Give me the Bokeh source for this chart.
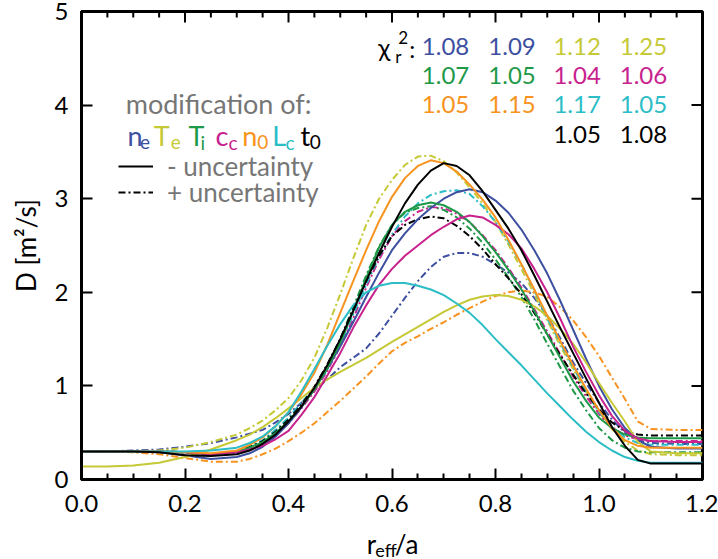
from bokeh.plotting import figure
from bokeh.layouts import column
from bokeh.models import (Range1d, Label, Legend, LegendItem,
                          FixedTicker, PrintfTickFormatter)
from bokeh.core.properties import value
from bokeh.embed import file_html
from bokeh.resources import INLINE

FONT = "Lato"
GRAY = "#767676"

# ---------------- data ----------------
r_eff = [0.00, 0.05, 0.10, 0.15, 0.20, 0.25,
         0.300, 0.325, 0.350, 0.375, 0.400, 0.425, 0.450, 0.475, 0.500, 0.525, 0.550,
         0.575, 0.600, 0.625, 0.650, 0.675, 0.700, 0.725, 0.750, 0.775, 0.800, 0.825,
         0.850, 0.875, 0.900, 0.925, 0.950, 0.975, 1.000, 1.025, 1.050, 1.075, 1.100,
         1.15, 1.20]

ne_minus = [0.30, 0.30, 0.30, 0.29, 0.26, 0.22,
            0.24, 0.28, 0.35, 0.46, 0.60, 0.77, 0.97, 1.19, 1.42, 1.68, 1.95, 2.21, 2.45,
            2.63, 2.78, 2.90, 3.00, 3.07, 3.10, 3.07, 2.98, 2.85, 2.67, 2.45, 2.20, 1.91,
            1.60, 1.29, 1.00, 0.75, 0.55, 0.42, 0.35,
            0.33, 0.33]
ne_plus = [0.30, 0.30, 0.31, 0.32, 0.35, 0.39,
           0.45, 0.49, 0.53, 0.61, 0.70, 0.82, 0.95, 1.07, 1.20, 1.30, 1.40, 1.56, 1.75,
           1.94, 2.12, 2.27, 2.38, 2.42, 2.42, 2.38, 2.30, 2.21, 2.10, 1.94, 1.75, 1.51,
           1.25, 1.03, 0.82, 0.64, 0.50, 0.42, 0.39,
           0.38, 0.38]
Te_minus = [0.14, 0.14, 0.15, 0.18, 0.24, 0.32,
            0.42, 0.48, 0.56, 0.655, 0.76, 0.87, 0.98, 1.07, 1.15, 1.225, 1.30, 1.385, 1.47,
            1.55, 1.63, 1.71, 1.79, 1.86, 1.92, 1.955, 1.97, 1.96, 1.92, 1.85, 1.75, 1.61,
            1.45, 1.25, 1.03, 0.82, 0.62, 0.40, 0.30,
            0.28, 0.28]
Te_plus = [0.30, 0.30, 0.30, 0.31, 0.34, 0.40,
           0.48, 0.55, 0.63, 0.74, 0.87, 1.06, 1.30, 1.62, 1.98, 2.36, 2.72, 3.00, 3.20,
           3.36, 3.45, 3.46, 3.40, 3.28, 3.12, 2.95, 2.75, 2.51, 2.25, 1.98, 1.70, 1.43,
           1.18, 0.94, 0.72, 0.54, 0.40, 0.31, 0.27,
           0.26, 0.26]
Ti_minus = [0.30, 0.30, 0.30, 0.30, 0.29, 0.27,
            0.30, 0.34, 0.40, 0.50, 0.62, 0.78, 0.96, 1.19, 1.46, 1.80, 2.15, 2.48, 2.72,
            2.86, 2.93, 2.96, 2.93, 2.86, 2.75, 2.60, 2.43, 2.24, 2.03, 1.80, 1.55, 1.30,
            1.05, 0.84, 0.66, 0.55, 0.48, 0.45, 0.44,
            0.44, 0.44]
Ti_plus = [0.30, 0.30, 0.30, 0.30, 0.29, 0.27,
           0.30, 0.345, 0.41, 0.51, 0.63, 0.79, 0.98, 1.22, 1.50, 1.84, 2.18, 2.49, 2.72,
           2.85, 2.90, 2.92, 2.88, 2.80, 2.68, 2.53, 2.35, 2.16, 1.95, 1.71, 1.45, 1.20,
           0.95, 0.74, 0.55, 0.42, 0.34, 0.30, 0.29,
           0.29, 0.29]
cc_minus = [0.30, 0.30, 0.30, 0.30, 0.29, 0.27,
            0.29, 0.32, 0.36, 0.43, 0.52, 0.69, 0.88, 1.11, 1.35, 1.62, 1.86, 2.08, 2.25,
            2.39, 2.50, 2.61, 2.70, 2.78, 2.82, 2.80, 2.72, 2.62, 2.47, 2.25, 2.00, 1.72,
            1.42, 1.15, 0.90, 0.68, 0.52, 0.44, 0.41,
            0.40, 0.40]
cc_plus = [0.30, 0.30, 0.30, 0.30, 0.29, 0.27,
           0.29, 0.33, 0.39, 0.48, 0.60, 0.76, 0.94, 1.16, 1.42, 1.72, 2.05, 2.35, 2.60,
           2.76, 2.86, 2.91, 2.90, 2.84, 2.75, 2.61, 2.45, 2.26, 2.05, 1.82, 1.58, 1.34,
           1.10, 0.89, 0.70, 0.56, 0.47, 0.43, 0.41,
           0.41, 0.41]
n0_minus = [0.30, 0.30, 0.30, 0.30, 0.29, 0.28,
            0.31, 0.37, 0.45, 0.57, 0.72, 0.91, 1.14, 1.44, 1.78, 2.12, 2.45, 2.76, 3.02,
            3.22, 3.35, 3.41, 3.38, 3.29, 3.15, 2.99, 2.80, 2.56, 2.30, 2.03, 1.75, 1.48,
            1.22, 0.97, 0.74, 0.55, 0.42, 0.36, 0.34,
            0.34, 0.34]
n0_plus = [0.30, 0.30, 0.29, 0.27, 0.23, 0.19,
           0.19, 0.22, 0.27, 0.33, 0.41, 0.50, 0.60, 0.72, 0.84, 0.97, 1.10, 1.24, 1.37,
           1.46, 1.53, 1.61, 1.68, 1.76, 1.83, 1.90, 1.96, 2.00, 2.02, 2.00, 1.95, 1.84,
           1.70, 1.52, 1.32, 1.09, 0.86, 0.62, 0.54,
           0.53, 0.53]
Lc_minus = [0.30, 0.30, 0.30, 0.30, 0.30, 0.31,
            0.34, 0.39, 0.46, 0.57, 0.72, 0.94, 1.18, 1.43, 1.66, 1.86, 2.00, 2.07, 2.10,
            2.10, 2.07, 2.03, 1.97, 1.88, 1.78, 1.65, 1.50, 1.36, 1.22, 1.07, 0.92, 0.78,
            0.64, 0.51, 0.40, 0.31, 0.24, 0.20, 0.18,
            0.18, 0.18]
Lc_plus = [0.30, 0.30, 0.30, 0.30, 0.29, 0.27,
           0.30, 0.35, 0.42, 0.53, 0.66, 0.82, 0.98, 1.17, 1.45, 1.76, 2.08, 2.38, 2.62,
           2.81, 2.95, 3.04, 3.08, 3.09, 3.05, 2.92, 2.75, 2.54, 2.30, 2.02, 1.72, 1.46,
           1.20, 0.94, 0.72, 0.56, 0.45, 0.39, 0.37,
           0.37, 0.37]
t0_minus = [0.30, 0.30, 0.30, 0.29, 0.26, 0.25,
            0.27, 0.31, 0.38, 0.48, 0.62, 0.78, 0.98, 1.22, 1.50, 1.80, 2.12, 2.42, 2.70,
            2.95, 3.15, 3.30, 3.38, 3.35, 3.25, 3.08, 2.88, 2.68, 2.45, 2.18, 1.90, 1.62,
            1.35, 1.08, 0.82, 0.56, 0.36, 0.21, 0.17,
            0.17, 0.17]
t0_plus = [0.30, 0.30, 0.30, 0.30, 0.29, 0.27,
           0.30, 0.345, 0.41, 0.51, 0.64, 0.80, 0.99, 1.23, 1.50, 1.82, 2.12, 2.39, 2.60,
           2.72, 2.78, 2.81, 2.79, 2.71, 2.60, 2.46, 2.30, 2.15, 1.98, 1.78, 1.55, 1.33,
           1.12, 0.92, 0.75, 0.61, 0.52, 0.48, 0.47,
           0.47, 0.47]

params = ["ne", "Te", "Ti", "cc", "n0", "Lc", "t0"]
param_main = ["n", "T", "T", "c", "n", "L", "t"]
param_sub = ["e", "e", "i", "c", "0", "c", "0"]
colors = ["#3D4FA1", "#C6C936", "#1E9948", "#C7228D", "#F7931E", "#2CBDC6", "#000000"]
minus_curves = [ne_minus, Te_minus, Ti_minus, cc_minus, n0_minus, Lc_minus, t0_minus]
plus_curves = [ne_plus, Te_plus, Ti_plus, cc_plus, n0_plus, Lc_plus, t0_plus]
chi2_minus = [1.08, 1.12, 1.07, 1.04, 1.05, 1.17, 1.05]
chi2_plus = [1.09, 1.25, 1.05, 1.06, 1.15, 1.05, 1.08]
chi2_slot = [(0, 0), (0, 2), (1, 0), (1, 2), (2, 0), (2, 2), (3, 2)]  # (row, col)

x_major = [0.0, 0.2, 0.4, 0.6, 0.8, 1.0, 1.2]
x_minor = [0.05, 0.1, 0.15, 0.25, 0.3, 0.35, 0.45, 0.5, 0.55, 0.65, 0.7, 0.75,
           0.85, 0.9, 0.95, 1.05, 1.1, 1.15]
y_major = [0, 1, 2, 3, 4, 5]
X_MIN, X_MAX, Y_MIN, Y_MAX = 0.0, 1.2, 0.0, 5.0

# ---------------- main figure ----------------
p = figure(width=718, height=522, x_range=Range1d(X_MIN, X_MAX), y_range=Range1d(Y_MIN, Y_MAX),
           output_backend="svg", toolbar_location=None,
           min_border_left=81, min_border_right=16, min_border_top=11, min_border_bottom=43)
p.grid.visible = False
p.outline_line_color = "black"
p.outline_line_width = 3
p.background_fill_color = "white"
p.border_fill_color = "white"

for ax in (p.xaxis[0], p.yaxis[0]):
    ax.axis_line_width = 3
    ax.axis_line_color = "black"
    ax.major_tick_in = 11
    ax.major_tick_out = 0
    ax.minor_tick_in = 6
    ax.minor_tick_out = 0
    ax.major_tick_line_width = 2
    ax.minor_tick_line_width = 2
    ax.major_label_text_font = FONT
    ax.major_label_text_font_size = "24px"
    ax.major_label_text_color = "black"

p.xaxis[0].ticker = FixedTicker(ticks=x_major, minor_ticks=x_minor)
p.xaxis[0].formatter = PrintfTickFormatter(format="%.1f")
p.xaxis[0].major_label_standoff = 15
p.yaxis[0].ticker = FixedTicker(ticks=y_major, minor_ticks=[])
p.yaxis[0].formatter = PrintfTickFormatter(format="%d")
p.yaxis[0].major_label_standoff = 13
p.yaxis[0].axis_label = "D [m\u00b2/s]"
p.yaxis[0].axis_label_text_font = FONT
p.yaxis[0].axis_label_text_font_size = "26px"
p.yaxis[0].axis_label_text_font_style = "normal"
p.yaxis[0].axis_label_text_color = "black"
p.yaxis[0].axis_label_standoff = 10

# inward ticks on the top and right frame edges (half of each mark is clipped by the frame)
tick_kw = dict(fill_color="black", line_color=None, width_units="screen", height_units="screen")
p.rect(x=x_major, y=[Y_MAX] * len(x_major), width=2, height=22, **tick_kw)
p.rect(x=x_minor, y=[Y_MAX] * len(x_minor), width=2, height=12, **tick_kw)
p.rect(x=[X_MAX] * len(y_major), y=y_major, width=22, height=2, **tick_kw)

# ---------------- curves ----------------
renderers_minus = []
renderers_plus = []
for col, yp in zip(colors, plus_curves):
    renderers_plus.append(p.line(r_eff, yp, line_color=col, line_width=2,
                                 line_dash="7 3 2 3", line_join="round"))
for col, ym in zip(colors, minus_curves):
    renderers_minus.append(p.line(r_eff, ym, line_color=col, line_width=2, line_join="round"))

# ---------------- legend (one box per row, for exact row placement) ----------------
leg_kw = dict(border_line_color=None, background_fill_alpha=0, padding=0, margin=0,
              spacing=0, glyph_width=35, glyph_height=20, label_standoff=14,
              label_text_font=FONT, label_text_font_size="26px", label_text_color=GRAY)
p.add_layout(Legend(items=[LegendItem(label=value("- uncertainty"), renderers=[renderers_minus[-1]])],
                    location=(37, 297), **leg_kw))
p.add_layout(Legend(items=[LegendItem(label=value("+ uncertainty"), renderers=[renderers_plus[-1]])],
                    location=(37, 271), **leg_kw))


def px_x(px):
    return (px - 80.7) / 518.5


def px_y(py):
    return (479.5 - py) / 93.7


def add_text(fig, x, y, text, size, color="black", baseline="middle"):
    fig.add_layout(Label(x=x, y=y, text=text, text_font=FONT, text_font_size=size,
                         text_color=color, text_align="left", text_baseline=baseline))


# "modification of:" block
add_text(p, px_x(125), px_y(103), "modification of:", "27px", GRAY, baseline="alphabetic")
main_px = [126.7, 153, 188, 215, 241.7, 271.7, 300]
sub_px = [139.3, 170, 200, 228, 256.7, 285, 309.3]
for m, s, col, mx, sx in zip(param_main, param_sub, colors, main_px, sub_px):
    add_text(p, px_x(mx), px_y(135), m, "27px", col, baseline="alphabetic")
    add_text(p, px_x(sx), px_y(142), s, "19px", col, baseline="alphabetic")

# chi^2 block
add_text(p, px_x(378), px_y(47), "\u03c7", "25px", "black")
add_text(p, px_x(395), px_y(56), "r", "17px", "black")
add_text(p, px_x(398), px_y(37), "2", "17px", "black")
add_text(p, px_x(409), px_y(48), ":", "24px", "black")
col_px = [421.7, 488.3, 553.5, 620.0]
row_py = [46, 75.5, 104.5, 134]
for col, cm, cp, (row, c0) in zip(colors, chi2_minus, chi2_plus, chi2_slot):
    add_text(p, px_x(col_px[c0]), px_y(row_py[row]), "%.2f" % cm, "24px", col)
    add_text(p, px_x(col_px[c0 + 1]), px_y(row_py[row]), "%.2f" % cp, "24px", col)

# ---------------- x-axis title strip (r_eff/a with a real subscript) ----------------
t = figure(width=718, height=36, x_range=p.x_range, y_range=Range1d(36, 0),
           output_backend="svg", toolbar_location=None,
           min_border_left=81, min_border_right=16, min_border_top=0, min_border_bottom=0,
           x_axis_location=None, y_axis_location=None)
t.grid.visible = False
t.outline_line_color = None
t.background_fill_color = "white"
t.border_fill_color = "white"
add_text(t, px_x(366.5), 21, "r", "26px", "black", baseline="alphabetic")
add_text(t, px_x(375), 27, "eff", "18px", "black", baseline="alphabetic")
add_text(t, px_x(394.5), 21, "/a", "26px", "black", baseline="alphabetic")

layout = column(p, t, spacing=0)
open("out.html", "w").write(file_html(layout, INLINE))
